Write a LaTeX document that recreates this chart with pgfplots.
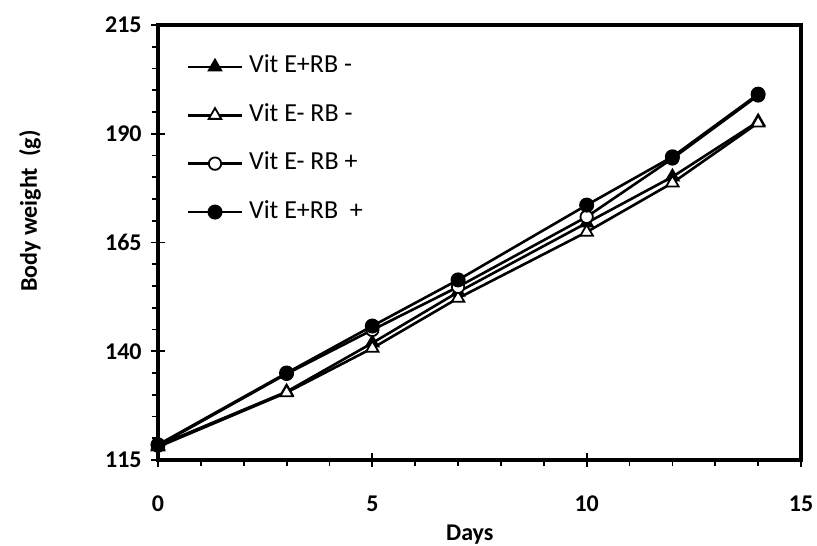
\documentclass[border=0pt]{standalone}
\usepackage{fontspec}
\setmainfont{Carlito}
\usepackage{pgfplots}
\pgfplotsset{compat=1.18}
\begin{document}
\begin{tikzpicture}
\useasboundingbox (-79pt,-42.5pt) rectangle (329.5pt,230pt);
\begin{axis}[
  at={(0,0)}, anchor=south west,
  scale only axis,
  width=321.5pt, height=217.5pt,
  xmin=0, xmax=15, ymin=115, ymax=215,
  xtick={0,5,10,15}, ytick={115,140,165,190,215},
  minor x tick num=4, minor y tick num=4,
  axis line style={line width=2pt},
  xtick pos=left, ytick pos=left,
  tick style={black, line width=0.9pt},
  tick align=outside,
  major tick length=7pt, minor tick length=3pt,
  major x tick style={yshift=3.5pt},
  major y tick style={xshift=3.5pt},
  /pgf/number format/assume math mode=true,
  ticklabel style={font=\fontsize{12}{13}\selectfont\bfseries},
  xticklabel style={anchor=center, inner sep=0pt, yshift=-15pt},
  yticklabel style={anchor=east, inner sep=0pt, xshift=-1pt},
  xlabel={\bfseries Days}, ylabel={\bfseries Body weight\ \ (g)},
  xlabel style={font=\fontsize{12}{13}\selectfont, at={(axis description cs:0.485,-0.1725)}, anchor=center},
  ylabel style={font=\fontsize{12}{13}\selectfont, at={(axis description cs:-0.199,0.572)}, anchor=center, rotate=0},
  legend style={draw=none, fill=none, at={(axis description cs:0.0445,0.93)}, anchor=north west,
    font=\fontsize{13}{14}\selectfont, row sep=13.2pt, column sep=3pt, inner sep=0pt,
    nodes={inner sep=0pt, text height=8.5pt, text depth=2.5pt}},
  legend cell align=left,
  legend image code/.code={\draw[#1, mark repeat=2, mark phase=2] plot coordinates {(0pt,0pt)(13.35pt,0pt)(26.7pt,0pt)};},
  every axis plot/.append style={black, line width=1.3pt},
  clip=false,
]
\addplot[mark=triangle*, mark size=3.6pt, mark options={fill=black, solid, line width=0.9pt}] coordinates {(0,118.3)(3,130.7)(5,141.9)(7,153.6)(10,169.5)(12,180.1)(14,192.8)};
\addlegendentry{Vit E+RB -}
\addplot[mark=triangle*, mark size=3.6pt, mark options={fill=white, solid, line width=0.9pt}] coordinates {(0,118.0)(3,130.5)(5,140.7)(7,152.2)(10,167.4)(12,178.7)(14,192.5)};
\addlegendentry{Vit E- RB -}
\addplot[mark=*, mark size=3.1pt, mark options={fill=white, solid, line width=0.9pt}] coordinates {(0,118.3)(3,134.8)(5,144.9)(7,154.8)(10,170.9)(12,184.3)(14,198.8)};
\addlegendentry{Vit E- RB +}
\addplot[mark=*, mark size=3.3pt, mark options={fill=black, solid, line width=0.9pt}] coordinates {(0,118.5)(3,135.0)(5,145.8)(7,156.4)(10,173.6)(12,184.7)(14,199.1)};
\addlegendentry{Vit E+RB\ \ +}
\end{axis}
\end{tikzpicture}
\end{document}
